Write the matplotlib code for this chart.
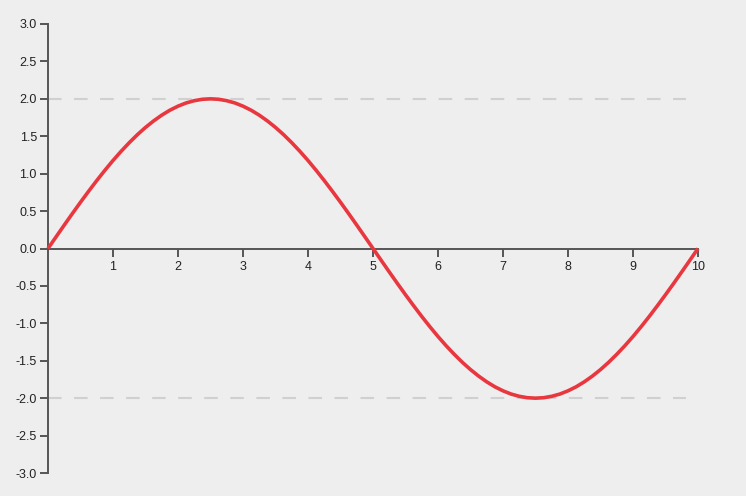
import numpy as np
import matplotlib
matplotlib.use('Agg')
import matplotlib.pyplot as plt

x_vals = np.linspace(0, 10, 81)
y_vals = [0.000, 0.157, 0.313, 0.467, 0.618, 0.765, 0.908, 1.045, 1.176, 1.299,
          1.414, 1.521, 1.618, 1.705, 1.782, 1.848, 1.902, 1.945, 1.975, 1.994,
          2.000, 1.994, 1.975, 1.945, 1.902, 1.848, 1.782, 1.705, 1.618, 1.521,
          1.414, 1.299, 1.176, 1.045, 0.908, 0.765, 0.618, 0.467, 0.313, 0.157,
          0.000, -0.157, -0.313, -0.467, -0.618, -0.765, -0.908, -1.045, -1.176, -1.299,
          -1.414, -1.521, -1.618, -1.705, -1.782, -1.848, -1.902, -1.945, -1.975, -1.994,
          -2.000, -1.994, -1.975, -1.945, -1.902, -1.848, -1.782, -1.705, -1.618, -1.521,
          -1.414, -1.299, -1.176, -1.045, -0.908, -0.765, -0.618, -0.467, -0.313, -0.157,
          0.000]
ref_levels = [2.0, -2.0]
ref_end = 9.82
x_ticks = [1, 2, 3, 4, 5, 6, 7, 8, 9, 10]
y_ticks = [-3.0, -2.5, -2.0, -1.5, -1.0, -0.5, 0.0, 0.5, 1.0, 1.5, 2.0, 2.5, 3.0]

plt.rcParams['font.family'] = ['Liberation Sans', 'DejaVu Sans']
plt.rcParams['axes.unicode_minus'] = False

bg = '#eeeeee'
axis_col = '#555555'
fig = plt.figure(figsize=(7.46, 4.96), dpi=100, facecolor=bg)
ax = fig.add_axes([48/746, 1-473/496, 650/746, 449/496])
ax.set_facecolor(bg)

# dashed reference lines at +/- amplitude
for lv in ref_levels:
    ax.plot([0, ref_end], [lv, lv], color='#d0d0d0', lw=1.5,
            dashes=(6.5, 6), zorder=1)

ax.plot(x_vals, y_vals, color='#e9373f', lw=2.6, solid_capstyle='butt',
        solid_joinstyle='round', zorder=3, clip_on=False)

ax.set_xlim(0, 10)
ax.set_ylim(-3, 3)

ax.spines[['top', 'right']].set_visible(False)
ax.spines['bottom'].set_position(('data', 0))
ax.spines['left'].set_color(axis_col)
ax.spines['bottom'].set_color(axis_col)
ax.spines['left'].set_linewidth(1.4)
ax.spines['bottom'].set_linewidth(1.4)

ax.set_xticks(x_ticks)
ax.set_xticklabels([str(t) for t in x_ticks])
ax.set_yticks(y_ticks)
ax.set_yticklabels(['%.1f' % t for t in y_ticks])
ax.tick_params(axis='both', direction='out', length=6, width=1.4,
               color=axis_col, labelsize=9, labelcolor='#222222')
ax.tick_params(axis='x', pad=3)
ax.tick_params(axis='y', pad=2)

fig.savefig('out.png', dpi=100, facecolor=bg)
